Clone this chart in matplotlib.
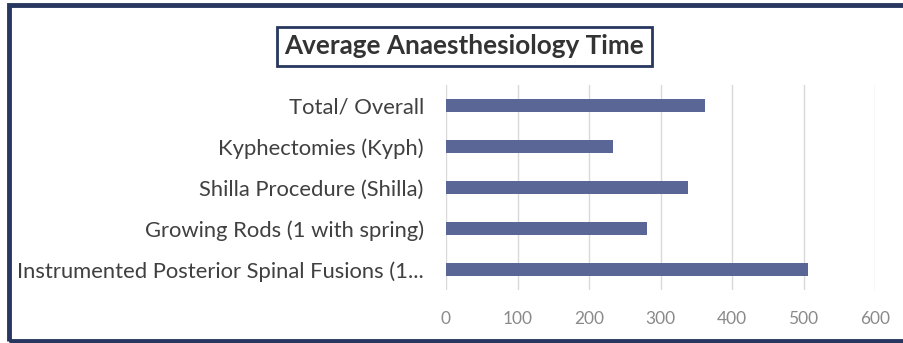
import matplotlib
matplotlib.use("Agg")
import matplotlib.pyplot as plt
from matplotlib.patches import Rectangle

categories = [
    "Instrumented Posterior Spinal Fusions (1...",
    "Growing Rods (1 with spring)",
    "Shilla Procedure (Shilla)",
    "Kyphectomies (Kyph)",
    "Total/ Overall",
]
values = [506, 281, 338, 233, 362]
xticks = [0, 100, 200, 300, 400, 500, 600]
title = "Average Anaesthesiology Time"

fig = plt.figure(figsize=(9.04, 3.43), dpi=100)
fig.patch.set_facecolor("white")

W, H = 904, 343
ax = fig.add_axes([446 / W, 1 - 290 / H, (875 - 446) / W, (290 - 85) / H])
ypos = list(range(len(categories)))
ax.barh(ypos, values, height=0.32, color="#5A6796", zorder=3)
ax.set_xlim(0, 600)
ax.set_ylim(-0.5, len(categories) - 0.5)
ax.set_yticks(ypos)
ax.set_yticklabels(categories, fontsize=15.8, color="#404040", family="Lato")
ax.set_xticks(xticks)
ax.set_xticklabels([str(t) for t in xticks], fontsize=12.5, color="#8a8a8a", family="Lato")
ax.tick_params(axis="both", length=0)
ax.tick_params(axis="y", pad=16)
ax.tick_params(axis="x", pad=15)
for s in ax.spines.values():
    s.set_visible(False)
ax.grid(axis="x", color="#d9d9d9", linewidth=1, zorder=0)
ax.set_axisbelow(True)

# outer frame (right edge falls outside the image)
fig.add_artist(Rectangle((8.5 / W, 1 - 341 / H), 0.1 + (904 - 8) / W, (341 - 5) / H,
                         transform=fig.transFigure, fill=False, clip_on=False,
                         edgecolor="#27375F", linewidth=3.5))

# title box
fig.text(464.5 / W, 1 - 46.5 / H, title, ha="center", va="center",
         fontsize=18.8, fontweight="bold", color="#333333", family="Lato",
         bbox=dict(boxstyle="square,pad=0.28", facecolor="white",
                   edgecolor="#27375F", linewidth=2))

fig.savefig("out.png", dpi=100, facecolor="white")
